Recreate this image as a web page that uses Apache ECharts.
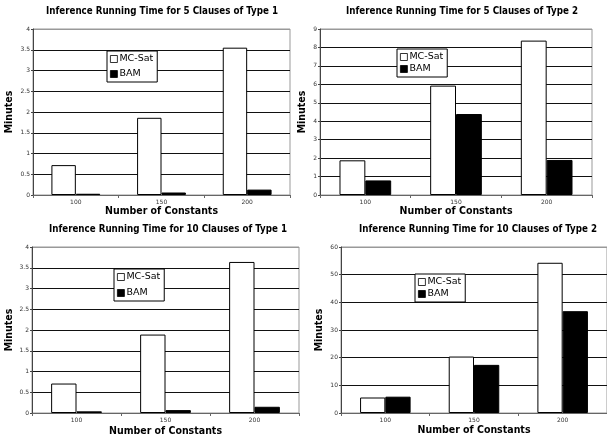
<!DOCTYPE html>
<html><head><meta charset="utf-8">
<script src="https://cdn.jsdelivr.net/npm/echarts@6/dist/echarts.min.js"></script>
<style>html,body{margin:0;padding:0;background:#fff}#c{width:607px;height:438px}</style>
</head><body><div id="c"></div>
<script>
var categories = ['100', '150', '200'];
var seriesNames = ['MC-Sat', 'BAM'];
var titles = [
  'Inference Running Time for 5 Clauses of Type 1',
  'Inference Running Time for 5 Clauses of Type 2',
  'Inference Running Time for 10 Clauses of Type 1',
  'Inference Running Time for 10 Clauses of Type 2'
];
var mcsat5t1 = [0.72, 1.86, 3.55];
var bam5t1 = [0.03, 0.06, 0.13];
var mcsat5t2 = [1.88, 5.93, 8.37];
var bam5t2 = [0.79, 4.39, 1.9];
var mcsat10t1 = [0.71, 1.89, 3.64];
var bam10t1 = [0.04, 0.07, 0.15];
var mcsat10t2 = [5.6, 20.4, 54.3];
var bam10t2 = [5.9, 17.4, 36.8];
var yMax = [4, 9, 4, 60];
var yStep = [0.5, 1, 0.5, 10];
var yTickLabels = [
  ['0','0.5','1','1.5','2','2.5','3','3.5','4'],
  ['0','1','2','3','4','5','6','7','8','9'],
  ['0','0.5','1','1.5','2','2.5','3','3.5','4'],
  ['0','10','20','30','40','50','60']
];
var xName = 'Number of Constants';
var yName = 'Minutes';

var mcData = [mcsat5t1, mcsat5t2, mcsat10t1, mcsat10t2];
var bamData = [bam5t1, bam5t2, bam10t1, bam10t2];

// layout
var grids = [
  {left: 33, top: 29, width: 257, height: 166},
  {left: 320, top: 29, width: 272, height: 166},
  {left: 32, top: 247, width: 267, height: 166},
  {left: 341, top: 247, width: 268, height: 166}
];
var titlePos = [[162, 6], [462, 6], [168, 224], [478, 224]];
var legendPos = [[107, 51], [397, 49], [114, 269], [415, 274]];
var legendGap = [5, 2, 6, 2];
var yNameGap = [18, 12, 17, 16];
var xNameGap = [11, 11, 13, 12];

var FONT = 'DejaVu Sans Condensed';
var option = {
  animation: false,
  backgroundColor: '#fff',
  title: [], legend: [], grid: [], xAxis: [], yAxis: [], series: []
};
for (var i = 0; i < 4; i++) {
  option.title.push({
    text: titles[i], left: titlePos[i][0], top: titlePos[i][1], textAlign: 'center', padding: 0,
    textStyle: {fontFamily: FONT, fontWeight: 'bold', fontSize: 9.7, color: '#000'}
  });
  option.legend.push({
    data: seriesNames, orient: 'vertical', left: legendPos[i][0], top: legendPos[i][1],
    padding: [3, 4, 3, 3], itemGap: legendGap[i], itemWidth: 7, itemHeight: 7, icon: 'rect',
    borderColor: '#000', borderWidth: 1, backgroundColor: '#fff',
    itemStyle: {borderWidth: 0.8},
    textStyle: {fontFamily: 'DejaVu Sans', fontSize: 9.5, color: '#000', padding: [0,0,0,-3]},
    selectedMode: false
  });
  option.grid.push({
    left: grids[i].left, top: grids[i].top, width: grids[i].width, height: grids[i].height,
    show: true, borderColor: '#999', borderWidth: 1, backgroundColor: '#fff'
  });
  var nLines = yTickLabels[i].length;
  var lineColors = [];
  for (var k = 0; k < nLines; k++) lineColors.push(k === nLines - 1 ? '#999' : '#111');
  option.xAxis.push({
    type: 'category', gridIndex: i, data: categories,
    name: xName, nameLocation: 'middle', nameGap: xNameGap[i],
    nameTextStyle: {fontFamily: FONT, fontWeight: 'bold', fontSize: 10.5, color: '#000'},
    axisLine: {lineStyle: {color: '#666', width: 1}},
    axisTick: {show: true, length: 3, lineStyle: {color: '#666'}},
    axisLabel: {fontFamily: 'DejaVu Sans', fontSize: 6, color: '#333', margin: 4}
  });
  option.yAxis.push({
    type: 'value', gridIndex: i, min: 0, max: yMax[i], interval: yStep[i],
    name: yName, nameLocation: 'middle', nameGap: yNameGap[i], nameRotate: 90,
    nameTextStyle: {fontFamily: FONT, fontWeight: 'bold', fontSize: 10.5, color: '#000'},
    axisLine: {show: true, lineStyle: {color: '#444', width: 1}},
    axisTick: {show: true, length: 2, lineStyle: {color: '#444'}},
    axisLabel: {fontFamily: 'DejaVu Sans', fontSize: 6, color: '#333', margin: 3,
      formatter: (function (labels, step) { return function (v) { var idx = Math.round(v / step); return labels[idx] !== undefined ? labels[idx] : ''; }; })(yTickLabels[i], yStep[i])},
    splitLine: {show: true, lineStyle: {color: lineColors, width: 1}}
  });
  option.series.push({
    name: seriesNames[0], type: 'bar', xAxisIndex: i, yAxisIndex: i, data: mcData[i],
    barGap: '0%', barCategoryGap: '43%',
    itemStyle: {color: '#fff', borderColor: '#000', borderWidth: 1}
  });
  option.series.push({
    name: seriesNames[1], type: 'bar', xAxisIndex: i, yAxisIndex: i, data: bamData[i],
    barGap: '0%', barCategoryGap: '43%',
    itemStyle: {color: '#000', borderColor: '#000', borderWidth: 1}
  });
}
var chart = echarts.init(document.getElementById('c'), null, {renderer: 'canvas'});
chart.setOption(option);
</script></body></html>
